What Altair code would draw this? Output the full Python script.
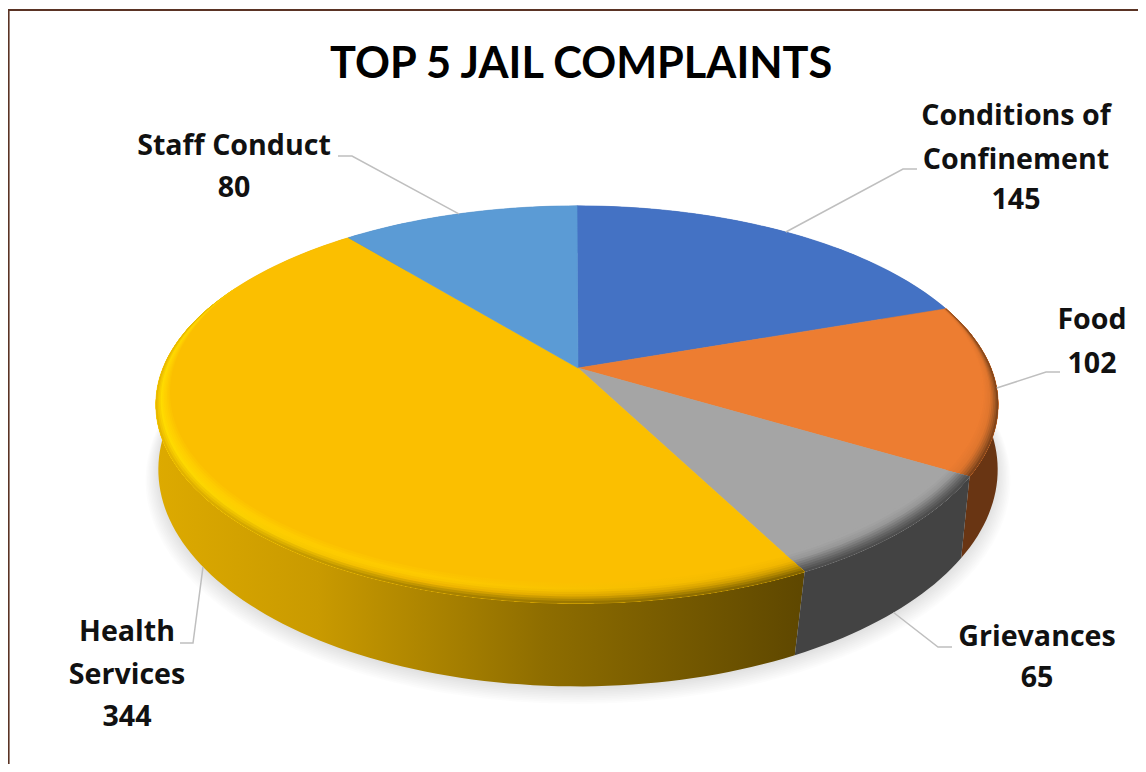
import math
import altair as alt

# ---- values
categories = ["Conditions of Confinement", "Food", "Grievances", "Health Services", "Staff Conduct"]
values = [145, 102, 65, 344, 80]
face_colors = ["#4472C4", "#ED7D31", "#A5A5A5", "#FBBF00", "#5B9BD5"]
title_text = "TOP 5 JAIL COMPLAINTS"
# label lines (text, centre x, centre y)
label_text = ["Conditions of", "Confinement", "145", "Food", "102", "Grievances", "65",
              "Health", "Services", "344", "Staff Conduct", "80"]
label_x = [1008, 1008, 1008, 1084, 1084, 1029, 1029, 119, 119, 119, 226, 226]
label_y = [108, 152, 192, 312, 356, 629, 670, 624, 667, 709, 138, 180]
# leader elbows, end of each leader, and whether it starts on the lower rim
elbow_x = [895, 1038, 930, 185, 344]
elbow_y = [161, 364, 639, 635, 148]
end_x = [909, 1052, 944, 172, 330]
end_y = [161, 364, 639, 635, 148]
starts_low = [False, False, True, True, False]

# ---- view of the disc (chart pixels)
APEX_X, CX, CY = 570, 569, 360
R, K, P = 414, 192, 0.184
R2, K2, DY, P2 = 416, 213, 73, 0.132


def top(theta, r=1.0):
    u, v = r * math.sin(theta), r * math.cos(theta)
    w = 1 + P * v
    return [CX + R * u / w, CY - K * v / w]


def low(theta, s=1.0, dy=0.0):
    u, v = s * math.sin(theta), s * math.cos(theta)
    w = 1 + P2 * v
    return [APEX_X + R2 * u / w, CY + DY + dy - K2 * v / w]


def sweep(a, b, step=math.radians(1.5)):
    n = max(2, int(abs(b - a) / step) + 1)
    return [a + (b - a) * i / n for i in range(n + 1)]


total = sum(values)
edges = [0.0]
for val in values:
    edges.append(edges[-1] + val / total * 2 * math.pi)
slices = list(zip(edges[:-1], edges[1:]))


def rim_width(theta, frac):
    t = max(0.0, min(1.0, (0.45 - math.cos(theta)) / 1.45))
    return 1 - 0.08 * frac * t ** 0.9


def poly(points):
    return {"type": "Feature", "properties": {},
            "geometry": {"type": "Polygon", "coordinates": [points + [points[0]]]}}


def line(points):
    return {"type": "Feature", "properties": {},
            "geometry": {"type": "LineString", "coordinates": points}}


def geo(feature):
    return alt.InlineData(values={"type": "FeatureCollection", "features": [feature]},
                          format=alt.DataFormat(type="json", property="features"))


def hgrad(stops):
    return alt.LinearGradient(gradient="linear", x1=0, x2=1, y1=0, y2=0,
                              stops=[alt.GradientStop(offset=o, color=c) for o, c in stops])


def shape(feature, **mark):
    return alt.Chart(geo(feature)).mark_geoshape(**mark).encode()


def mix(profile, frac):
    """colour of a bevel profile [(frac, '#rrggbb'), ...] with frac falling from 1 to 0"""
    for (f0, c0), (f1, c1) in zip(profile[:-1], profile[1:]):
        if f1 <= frac <= f0:
            w = 0 if f0 == f1 else (f0 - frac) / (f0 - f1)
            rgb = [round(int(c0[j:j + 2], 16) * (1 - w) + int(c1[j:j + 2], 16) * w) for j in (1, 3, 5)]
            return "#%02X%02X%02X" % tuple(rgb)
    return profile[-1][1]


layers = []

# soft shadow under the disc
for n in range(10):
    s = 1.03 - n * 0.0033
    pts = [low(t, s, 9 - n * 0.8) for t in sweep(0, 2 * math.pi)]
    layers.append(shape(poly(pts), fill="#000000", fillOpacity=0.013, strokeWidth=0))

# outer wall
side_fills = [
    "#2F5597", "#693513", "#434343",
    hgrad([(0, "#DDAA00"), (0.25, "#C99A00"), (0.6, "#8E6D00"), (1, "#5E4700")]),
    "#3E6F9F",
]
for i in [0, 4, 1, 3, 2]:
    a, b = slices[i]
    ts = sweep(a, b)
    pts = [top(t) for t in ts] + [low(t) for t in reversed(ts)]
    layers.append(shape(poly(pts), fill=side_fills[i], strokeWidth=0))

# top face
for (a, b), col in zip(slices, face_colors):
    pts = [[APEX_X, CY]] + [top(t) for t in sweep(a, b)]
    layers.append(shape(poly(pts), fill=col, stroke=col, strokeWidth=0.6))

# bevel along the front of the top face, painted from its inner side outward
bevels = {
    1: [[(1, "#ED7D31"), (0.55, "#E0762E"), (0.25, "#A65A24"), (0, "#693513")]],
    2: [[(1, "#A5A5A5"), (0.7, "#989898"), (0.35, "#6A6A6A"), (0, "#434343")]],
    3: [[(1, "#FBBF00"), (0.65, "#FFD000"), (0.4, "#FFDC00"), (0.15, "#F0C000"), (0, "#D9A800")],
        [(1, "#FBBF00"), (0.65, "#FFCC00"), (0.4, "#F2B800"), (0.15, "#B58C00"), (0, "#9A7600")],
        [(1, "#FBBF00"), (0.65, "#F0B400"), (0.4, "#C99800"), (0.15, "#8F6E00"), (0, "#6A5000")]],
}
STEPS = 10
for i, profiles in bevels.items():
    a, b = slices[i]
    ts = sweep(a, b)
    for k in range(STEPS):
        frac = 1 - k / STEPS
        pts = [top(t) for t in ts] + [top(t, rim_width(t, frac)) for t in reversed(ts)]
        if len(profiles) == 1:
            fill = mix(profiles[0], frac)
        else:
            fill = hgrad([(o, mix(p, frac)) for o, p in zip([0, 0.4, 1], profiles)])
        layers.append(shape(poly(pts), fill=fill, strokeWidth=0))

# leader lines start at the middle of each slice
for i, (a, b) in enumerate(slices):
    mid = (a + b) / 2
    start = low(mid) if starts_low[i] else top(mid)
    pts = [start, [elbow_x[i], elbow_y[i]], [end_x[i], end_y[i]]]
    layers.append(shape(line(pts), filled=False, stroke="#BFBFBF", strokeWidth=1.5))

# frame of the picture
layers.append(shape(line([[0.5, 764], [0.5, 2], [1138, 2]]), filled=False, stroke="#5A3324", strokeWidth=2.2))

# labels
labels = alt.Chart(alt.InlineData(values=[
    {"t": t, "x": x, "y": y} for t, x, y in zip(label_text, label_x, label_y)
])).mark_text(font="Open Sans", fontWeight="bold", fontSize=28.6, color="#111111",
              align="center", baseline="middle").encode(
    longitude="x:Q", latitude="y:Q", text="t:N")
layers.append(labels)

chart = alt.layer(*layers).properties(
    width=1130, height=756, padding=0,
    title=alt.TitleParams(title_text, font="Lato", fontWeight="bold", fontSize=43.3, color="#000000",
                          anchor="start", offset=-79, dx=322),
    projection=alt.Projection(type="identity", scale=1, translate=[0, 0]),
).configure_view(stroke=None)

chart.save("out.html", embed_options={"renderer": "svg", "actions": False})
